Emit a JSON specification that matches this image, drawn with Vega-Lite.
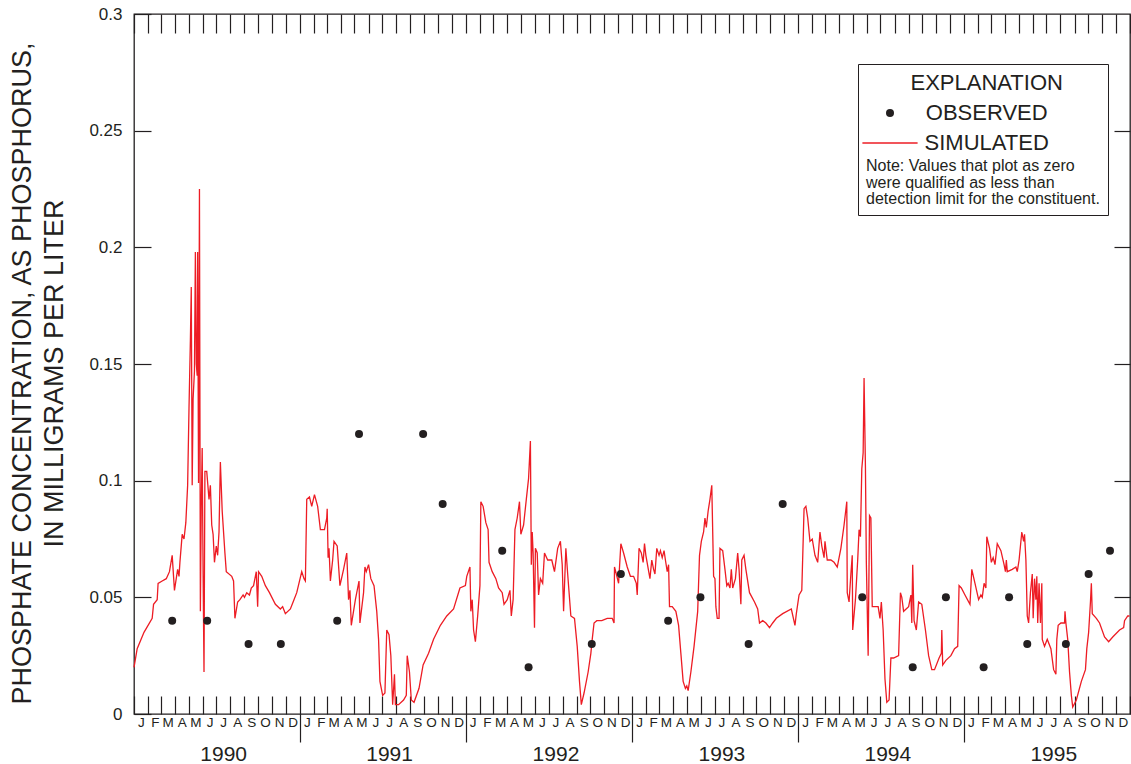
{
  "$schema": "https://vega.github.io/schema/vega-lite/v6.json",
  "width": 996,
  "height": 700,
  "autosize": {"type": "none"},
  "padding": {"left": 134, "top": 14, "right": 1, "bottom": 50},
  "background": "#ffffff",
  "config": {
    "font": "Liberation Sans",
    "view": {"stroke": "#231f20", "strokeWidth": 1.3},
    "axis": {
      "domain": false,
      "grid": false,
      "labelColor": "#231f20",
      "tickColor": "#231f20",
      "tickWidth": 1.2,
      "labelFont": "Liberation Sans",
      "titleFont": "Liberation Sans",
      "titleColor": "#231f20",
      "labelFlush": false,
      "labelOverlap": false
    }
  },
  "datasets": {
    "simulated": [
      {"date": "1990-01-01", "value": 0.020}, {"date": "1990-01-08", "value": 0.028}, {"date": "1990-01-23", "value": 0.035},
      {"date": "1990-02-10", "value": 0.041}, {"date": "1990-02-13", "value": 0.047}, {"date": "1990-02-21", "value": 0.049},
      {"date": "1990-02-23", "value": 0.056}, {"date": "1990-03-04", "value": 0.057}, {"date": "1990-03-13", "value": 0.058},
      {"date": "1990-03-20", "value": 0.061}, {"date": "1990-03-26", "value": 0.068}, {"date": "1990-03-31", "value": 0.053},
      {"date": "1990-04-07", "value": 0.062}, {"date": "1990-04-10", "value": 0.059}, {"date": "1990-04-12", "value": 0.065},
      {"date": "1990-04-17", "value": 0.077}, {"date": "1990-04-21", "value": 0.075}, {"date": "1990-04-25", "value": 0.082},
      {"date": "1990-04-29", "value": 0.098}, {"date": "1990-05-02", "value": 0.131}, {"date": "1990-05-05", "value": 0.160},
      {"date": "1990-05-07", "value": 0.183}, {"date": "1990-05-09", "value": 0.098}, {"date": "1990-05-11", "value": 0.135},
      {"date": "1990-05-14", "value": 0.147}, {"date": "1990-05-16", "value": 0.198}, {"date": "1990-05-18", "value": 0.150},
      {"date": "1990-05-20", "value": 0.145}, {"date": "1990-05-21", "value": 0.198}, {"date": "1990-05-23", "value": 0.099},
      {"date": "1990-05-25", "value": 0.225}, {"date": "1990-05-27", "value": 0.044}, {"date": "1990-05-29", "value": 0.090},
      {"date": "1990-05-31", "value": 0.114}, {"date": "1990-06-02", "value": 0.060}, {"date": "1990-06-04", "value": 0.018},
      {"date": "1990-06-06", "value": 0.104}, {"date": "1990-06-10", "value": 0.104}, {"date": "1990-06-15", "value": 0.092},
      {"date": "1990-06-18", "value": 0.098}, {"date": "1990-06-21", "value": 0.081}, {"date": "1990-06-24", "value": 0.077},
      {"date": "1990-06-27", "value": 0.065}, {"date": "1990-07-01", "value": 0.072}, {"date": "1990-07-04", "value": 0.068},
      {"date": "1990-07-07", "value": 0.078}, {"date": "1990-07-10", "value": 0.108}, {"date": "1990-07-14", "value": 0.087},
      {"date": "1990-07-20", "value": 0.069}, {"date": "1990-07-23", "value": 0.061}, {"date": "1990-08-04", "value": 0.059},
      {"date": "1990-08-08", "value": 0.057}, {"date": "1990-08-11", "value": 0.041}, {"date": "1990-08-17", "value": 0.048},
      {"date": "1990-08-22", "value": 0.049}, {"date": "1990-08-29", "value": 0.051}, {"date": "1990-09-01", "value": 0.050},
      {"date": "1990-09-06", "value": 0.052}, {"date": "1990-09-12", "value": 0.051}, {"date": "1990-09-16", "value": 0.054},
      {"date": "1990-09-21", "value": 0.055}, {"date": "1990-09-27", "value": 0.061}, {"date": "1990-09-30", "value": 0.046},
      {"date": "1990-10-02", "value": 0.061}, {"date": "1990-10-09", "value": 0.059}, {"date": "1990-10-17", "value": 0.055},
      {"date": "1990-10-26", "value": 0.052}, {"date": "1990-11-08", "value": 0.047}, {"date": "1990-11-19", "value": 0.045},
      {"date": "1990-11-24", "value": 0.046}, {"date": "1990-11-30", "value": 0.043}, {"date": "1990-12-11", "value": 0.045},
      {"date": "1990-12-17", "value": 0.048}, {"date": "1990-12-25", "value": 0.052},
      {"date": "1991-01-05", "value": 0.061}, {"date": "1991-01-10", "value": 0.058}, {"date": "1991-01-13", "value": 0.057},
      {"date": "1991-01-16", "value": 0.092}, {"date": "1991-01-22", "value": 0.093}, {"date": "1991-01-27", "value": 0.089},
      {"date": "1991-02-02", "value": 0.094}, {"date": "1991-02-09", "value": 0.089}, {"date": "1991-02-15", "value": 0.079},
      {"date": "1991-02-24", "value": 0.079}, {"date": "1991-03-01", "value": 0.084}, {"date": "1991-03-02", "value": 0.088},
      {"date": "1991-03-04", "value": 0.067}, {"date": "1991-03-06", "value": 0.071}, {"date": "1991-03-09", "value": 0.057},
      {"date": "1991-03-14", "value": 0.066}, {"date": "1991-03-17", "value": 0.074}, {"date": "1991-03-24", "value": 0.072},
      {"date": "1991-03-30", "value": 0.055}, {"date": "1991-04-07", "value": 0.062}, {"date": "1991-04-14", "value": 0.069},
      {"date": "1991-04-18", "value": 0.049}, {"date": "1991-04-21", "value": 0.053}, {"date": "1991-04-24", "value": 0.038},
      {"date": "1991-05-03", "value": 0.049}, {"date": "1991-05-11", "value": 0.057}, {"date": "1991-05-13", "value": 0.039},
      {"date": "1991-05-21", "value": 0.052}, {"date": "1991-05-24", "value": 0.063}, {"date": "1991-05-27", "value": 0.061},
      {"date": "1991-06-01", "value": 0.064}, {"date": "1991-06-06", "value": 0.058}, {"date": "1991-06-13", "value": 0.055},
      {"date": "1991-06-19", "value": 0.044}, {"date": "1991-06-23", "value": 0.032}, {"date": "1991-06-26", "value": 0.014},
      {"date": "1991-07-02", "value": 0.008}, {"date": "1991-07-07", "value": 0.009}, {"date": "1991-07-11", "value": 0.036},
      {"date": "1991-07-16", "value": 0.034}, {"date": "1991-07-20", "value": 0.025}, {"date": "1991-07-24", "value": 0.004},
      {"date": "1991-07-28", "value": 0.017}, {"date": "1991-07-30", "value": 0.004}, {"date": "1991-08-06", "value": 0.004},
      {"date": "1991-08-17", "value": 0.006}, {"date": "1991-08-23", "value": 0.008}, {"date": "1991-08-25", "value": 0.025},
      {"date": "1991-08-30", "value": 0.018}, {"date": "1991-09-03", "value": 0.006}, {"date": "1991-09-09", "value": 0.005},
      {"date": "1991-09-20", "value": 0.011}, {"date": "1991-09-29", "value": 0.021}, {"date": "1991-10-11", "value": 0.026},
      {"date": "1991-10-22", "value": 0.032}, {"date": "1991-11-06", "value": 0.038}, {"date": "1991-11-20", "value": 0.042},
      {"date": "1991-12-05", "value": 0.045}, {"date": "1991-12-19", "value": 0.054}, {"date": "1991-12-31", "value": 0.055},
      {"date": "1992-01-03", "value": 0.059}, {"date": "1992-01-10", "value": 0.063}, {"date": "1992-01-12", "value": 0.044},
      {"date": "1992-01-15", "value": 0.049}, {"date": "1992-01-18", "value": 0.036}, {"date": "1992-01-22", "value": 0.031},
      {"date": "1992-01-27", "value": 0.042}, {"date": "1992-02-01", "value": 0.055}, {"date": "1992-02-03", "value": 0.091},
      {"date": "1992-02-08", "value": 0.089}, {"date": "1992-02-14", "value": 0.082}, {"date": "1992-02-19", "value": 0.079},
      {"date": "1992-02-21", "value": 0.065}, {"date": "1992-02-28", "value": 0.061}, {"date": "1992-03-07", "value": 0.058},
      {"date": "1992-03-13", "value": 0.054}, {"date": "1992-03-21", "value": 0.052}, {"date": "1992-03-25", "value": 0.047},
      {"date": "1992-04-01", "value": 0.049}, {"date": "1992-04-07", "value": 0.053}, {"date": "1992-04-10", "value": 0.042},
      {"date": "1992-04-14", "value": 0.049}, {"date": "1992-04-18", "value": 0.079}, {"date": "1992-04-23", "value": 0.084},
      {"date": "1992-04-28", "value": 0.091}, {"date": "1992-05-01", "value": 0.077}, {"date": "1992-05-07", "value": 0.081},
      {"date": "1992-05-13", "value": 0.092}, {"date": "1992-05-18", "value": 0.101}, {"date": "1992-05-22", "value": 0.117},
      {"date": "1992-05-24", "value": 0.064}, {"date": "1992-05-26", "value": 0.078}, {"date": "1992-05-28", "value": 0.069},
      {"date": "1992-05-31", "value": 0.037}, {"date": "1992-06-02", "value": 0.071}, {"date": "1992-06-06", "value": 0.069},
      {"date": "1992-06-09", "value": 0.051}, {"date": "1992-06-13", "value": 0.058}, {"date": "1992-06-18", "value": 0.056},
      {"date": "1992-06-22", "value": 0.069}, {"date": "1992-06-29", "value": 0.066}, {"date": "1992-07-08", "value": 0.066},
      {"date": "1992-07-14", "value": 0.061}, {"date": "1992-07-21", "value": 0.071}, {"date": "1992-07-27", "value": 0.074},
      {"date": "1992-07-31", "value": 0.064}, {"date": "1992-08-03", "value": 0.044}, {"date": "1992-08-08", "value": 0.071},
      {"date": "1992-08-12", "value": 0.060}, {"date": "1992-08-19", "value": 0.042}, {"date": "1992-08-27", "value": 0.041},
      {"date": "1992-09-02", "value": 0.029}, {"date": "1992-09-07", "value": 0.014}, {"date": "1992-09-11", "value": 0.004},
      {"date": "1992-09-17", "value": 0.009}, {"date": "1992-09-26", "value": 0.018}, {"date": "1992-10-02", "value": 0.026},
      {"date": "1992-10-05", "value": 0.032}, {"date": "1992-10-09", "value": 0.039}, {"date": "1992-10-15", "value": 0.040},
      {"date": "1992-10-26", "value": 0.040}, {"date": "1992-11-07", "value": 0.041}, {"date": "1992-11-18", "value": 0.041},
      {"date": "1992-11-22", "value": 0.039}, {"date": "1992-11-23", "value": 0.063}, {"date": "1992-11-27", "value": 0.060},
      {"date": "1992-12-02", "value": 0.056}, {"date": "1992-12-07", "value": 0.073}, {"date": "1992-12-13", "value": 0.069},
      {"date": "1992-12-21", "value": 0.063}, {"date": "1992-12-28", "value": 0.059},
      {"date": "1993-01-04", "value": 0.059}, {"date": "1993-01-10", "value": 0.056}, {"date": "1993-01-12", "value": 0.051},
      {"date": "1993-01-16", "value": 0.071}, {"date": "1993-01-21", "value": 0.069}, {"date": "1993-01-25", "value": 0.065},
      {"date": "1993-01-28", "value": 0.073}, {"date": "1993-01-31", "value": 0.068}, {"date": "1993-02-09", "value": 0.058},
      {"date": "1993-02-13", "value": 0.066}, {"date": "1993-02-17", "value": 0.062}, {"date": "1993-02-20", "value": 0.060},
      {"date": "1993-02-24", "value": 0.071}, {"date": "1993-03-01", "value": 0.068}, {"date": "1993-03-04", "value": 0.070},
      {"date": "1993-03-08", "value": 0.067}, {"date": "1993-03-12", "value": 0.070}, {"date": "1993-03-15", "value": 0.066},
      {"date": "1993-03-19", "value": 0.061}, {"date": "1993-03-22", "value": 0.064}, {"date": "1993-03-24", "value": 0.046},
      {"date": "1993-03-30", "value": 0.046}, {"date": "1993-04-07", "value": 0.044}, {"date": "1993-04-13", "value": 0.038},
      {"date": "1993-04-18", "value": 0.026}, {"date": "1993-04-23", "value": 0.014}, {"date": "1993-04-28", "value": 0.011},
      {"date": "1993-05-01", "value": 0.012}, {"date": "1993-05-04", "value": 0.010}, {"date": "1993-05-10", "value": 0.018},
      {"date": "1993-05-17", "value": 0.029}, {"date": "1993-05-25", "value": 0.044}, {"date": "1993-05-29", "value": 0.068},
      {"date": "1993-06-02", "value": 0.074}, {"date": "1993-06-07", "value": 0.078}, {"date": "1993-06-10", "value": 0.084},
      {"date": "1993-06-13", "value": 0.080}, {"date": "1993-06-17", "value": 0.087}, {"date": "1993-06-21", "value": 0.092},
      {"date": "1993-06-25", "value": 0.098}, {"date": "1993-06-29", "value": 0.059}, {"date": "1993-07-02", "value": 0.058},
      {"date": "1993-07-04", "value": 0.046}, {"date": "1993-07-07", "value": 0.041}, {"date": "1993-07-11", "value": 0.041},
      {"date": "1993-07-13", "value": 0.071}, {"date": "1993-07-19", "value": 0.070}, {"date": "1993-07-24", "value": 0.062},
      {"date": "1993-07-28", "value": 0.055}, {"date": "1993-07-31", "value": 0.056}, {"date": "1993-08-04", "value": 0.054},
      {"date": "1993-08-07", "value": 0.062}, {"date": "1993-08-10", "value": 0.054}, {"date": "1993-08-16", "value": 0.058},
      {"date": "1993-08-21", "value": 0.069}, {"date": "1993-08-24", "value": 0.062}, {"date": "1993-08-28", "value": 0.047},
      {"date": "1993-08-30", "value": 0.066}, {"date": "1993-09-04", "value": 0.068}, {"date": "1993-09-08", "value": 0.062},
      {"date": "1993-09-16", "value": 0.052}, {"date": "1993-09-27", "value": 0.048}, {"date": "1993-10-04", "value": 0.045},
      {"date": "1993-10-08", "value": 0.039}, {"date": "1993-10-15", "value": 0.040}, {"date": "1993-10-22", "value": 0.039},
      {"date": "1993-10-30", "value": 0.037}, {"date": "1993-11-06", "value": 0.039}, {"date": "1993-11-14", "value": 0.041},
      {"date": "1993-11-28", "value": 0.043}, {"date": "1993-12-17", "value": 0.045}, {"date": "1993-12-25", "value": 0.038},
      {"date": "1993-12-28", "value": 0.043},
      {"date": "1994-01-03", "value": 0.051}, {"date": "1994-01-09", "value": 0.053}, {"date": "1994-01-14", "value": 0.088},
      {"date": "1994-01-18", "value": 0.089}, {"date": "1994-01-22", "value": 0.084}, {"date": "1994-01-27", "value": 0.074},
      {"date": "1994-02-01", "value": 0.075}, {"date": "1994-02-07", "value": 0.068}, {"date": "1994-02-13", "value": 0.065},
      {"date": "1994-02-18", "value": 0.078}, {"date": "1994-02-22", "value": 0.072}, {"date": "1994-02-27", "value": 0.067},
      {"date": "1994-03-01", "value": 0.074}, {"date": "1994-03-06", "value": 0.066}, {"date": "1994-03-14", "value": 0.066},
      {"date": "1994-03-21", "value": 0.065}, {"date": "1994-03-28", "value": 0.063}, {"date": "1994-04-05", "value": 0.071},
      {"date": "1994-04-12", "value": 0.081}, {"date": "1994-04-18", "value": 0.091}, {"date": "1994-04-19", "value": 0.052},
      {"date": "1994-04-23", "value": 0.048}, {"date": "1994-04-27", "value": 0.060}, {"date": "1994-04-30", "value": 0.068},
      {"date": "1994-05-01", "value": 0.036}, {"date": "1994-05-07", "value": 0.049}, {"date": "1994-05-12", "value": 0.066},
      {"date": "1994-05-15", "value": 0.079}, {"date": "1994-05-18", "value": 0.076}, {"date": "1994-05-21", "value": 0.105},
      {"date": "1994-05-24", "value": 0.112}, {"date": "1994-05-26", "value": 0.144}, {"date": "1994-05-29", "value": 0.106},
      {"date": "1994-05-31", "value": 0.065}, {"date": "1994-06-04", "value": 0.025}, {"date": "1994-06-07", "value": 0.085},
      {"date": "1994-06-10", "value": 0.084}, {"date": "1994-06-13", "value": 0.046}, {"date": "1994-06-19", "value": 0.046},
      {"date": "1994-06-26", "value": 0.046}, {"date": "1994-06-30", "value": 0.041}, {"date": "1994-07-03", "value": 0.048},
      {"date": "1994-07-07", "value": 0.036}, {"date": "1994-07-11", "value": 0.015}, {"date": "1994-07-15", "value": 0.005},
      {"date": "1994-07-20", "value": 0.006}, {"date": "1994-07-24", "value": 0.024}, {"date": "1994-07-30", "value": 0.024},
      {"date": "1994-08-10", "value": 0.025}, {"date": "1994-08-14", "value": 0.052}, {"date": "1994-08-17", "value": 0.050},
      {"date": "1994-08-21", "value": 0.044}, {"date": "1994-09-01", "value": 0.046}, {"date": "1994-09-06", "value": 0.051},
      {"date": "1994-09-08", "value": 0.039}, {"date": "1994-09-10", "value": 0.064}, {"date": "1994-09-13", "value": 0.040},
      {"date": "1994-09-18", "value": 0.036}, {"date": "1994-09-23", "value": 0.048}, {"date": "1994-09-30", "value": 0.047},
      {"date": "1994-10-08", "value": 0.036}, {"date": "1994-10-15", "value": 0.025}, {"date": "1994-10-22", "value": 0.019},
      {"date": "1994-10-28", "value": 0.019}, {"date": "1994-11-07", "value": 0.024}, {"date": "1994-11-12", "value": 0.026},
      {"date": "1994-11-13", "value": 0.036}, {"date": "1994-11-15", "value": 0.021}, {"date": "1994-11-22", "value": 0.023},
      {"date": "1994-12-03", "value": 0.025}, {"date": "1994-12-11", "value": 0.028}, {"date": "1994-12-18", "value": 0.029},
      {"date": "1994-12-21", "value": 0.055}, {"date": "1994-12-26", "value": 0.054},
      {"date": "1995-01-03", "value": 0.051}, {"date": "1995-01-14", "value": 0.047}, {"date": "1995-01-18", "value": 0.062},
      {"date": "1995-01-25", "value": 0.056}, {"date": "1995-02-02", "value": 0.049}, {"date": "1995-02-07", "value": 0.051},
      {"date": "1995-02-10", "value": 0.050}, {"date": "1995-02-14", "value": 0.056}, {"date": "1995-02-18", "value": 0.054},
      {"date": "1995-02-20", "value": 0.076}, {"date": "1995-02-26", "value": 0.071}, {"date": "1995-03-02", "value": 0.065},
      {"date": "1995-03-06", "value": 0.067}, {"date": "1995-03-10", "value": 0.064}, {"date": "1995-03-15", "value": 0.073},
      {"date": "1995-03-23", "value": 0.070}, {"date": "1995-03-30", "value": 0.064}, {"date": "1995-04-02", "value": 0.061},
      {"date": "1995-04-04", "value": 0.066}, {"date": "1995-04-06", "value": 0.061}, {"date": "1995-04-17", "value": 0.062},
      {"date": "1995-04-25", "value": 0.063}, {"date": "1995-04-28", "value": 0.061}, {"date": "1995-05-02", "value": 0.066},
      {"date": "1995-05-08", "value": 0.078}, {"date": "1995-05-12", "value": 0.074}, {"date": "1995-05-14", "value": 0.077},
      {"date": "1995-05-17", "value": 0.066}, {"date": "1995-05-20", "value": 0.042}, {"date": "1995-05-23", "value": 0.039},
      {"date": "1995-05-27", "value": 0.052}, {"date": "1995-05-31", "value": 0.060}, {"date": "1995-06-02", "value": 0.041},
      {"date": "1995-06-05", "value": 0.058}, {"date": "1995-06-08", "value": 0.049}, {"date": "1995-06-10", "value": 0.059},
      {"date": "1995-06-12", "value": 0.039}, {"date": "1995-06-15", "value": 0.056}, {"date": "1995-06-18", "value": 0.039},
      {"date": "1995-06-21", "value": 0.056}, {"date": "1995-06-22", "value": 0.032}, {"date": "1995-06-27", "value": 0.029},
      {"date": "1995-07-03", "value": 0.032}, {"date": "1995-07-11", "value": 0.028}, {"date": "1995-07-17", "value": 0.019},
      {"date": "1995-07-22", "value": 0.017}, {"date": "1995-07-24", "value": 0.032}, {"date": "1995-07-27", "value": 0.038},
      {"date": "1995-08-02", "value": 0.039}, {"date": "1995-08-10", "value": 0.039}, {"date": "1995-08-11", "value": 0.044},
      {"date": "1995-08-13", "value": 0.039}, {"date": "1995-08-17", "value": 0.032}, {"date": "1995-08-21", "value": 0.018},
      {"date": "1995-08-25", "value": 0.008}, {"date": "1995-08-28", "value": 0.003}, {"date": "1995-09-05", "value": 0.006},
      {"date": "1995-09-16", "value": 0.014}, {"date": "1995-09-25", "value": 0.019}, {"date": "1995-09-28", "value": 0.028},
      {"date": "1995-10-02", "value": 0.035}, {"date": "1995-10-06", "value": 0.048}, {"date": "1995-10-08", "value": 0.056},
      {"date": "1995-10-10", "value": 0.043}, {"date": "1995-10-19", "value": 0.041}, {"date": "1995-10-26", "value": 0.039},
      {"date": "1995-11-06", "value": 0.033}, {"date": "1995-11-15", "value": 0.031}, {"date": "1995-11-24", "value": 0.033},
      {"date": "1995-12-09", "value": 0.036}, {"date": "1995-12-18", "value": 0.037}, {"date": "1995-12-20", "value": 0.040},
      {"date": "1995-12-27", "value": 0.042}, {"date": "1995-12-31", "value": 0.042}
    ],
    "observed": [
      {"date": "1990-03-26", "value": 0.04, "series": "OBSERVED"},
      {"date": "1990-06-11", "value": 0.04, "series": "OBSERVED"},
      {"date": "1990-09-10", "value": 0.03, "series": "OBSERVED"},
      {"date": "1990-11-20", "value": 0.03, "series": "OBSERVED"},
      {"date": "1991-03-24", "value": 0.04, "series": "OBSERVED"},
      {"date": "1991-05-11", "value": 0.12, "series": "OBSERVED"},
      {"date": "1991-09-29", "value": 0.12, "series": "OBSERVED"},
      {"date": "1991-11-11", "value": 0.09, "series": "OBSERVED"},
      {"date": "1992-03-21", "value": 0.07, "series": "OBSERVED"},
      {"date": "1992-05-18", "value": 0.02, "series": "OBSERVED"},
      {"date": "1992-10-04", "value": 0.03, "series": "OBSERVED"},
      {"date": "1992-12-07", "value": 0.06, "series": "OBSERVED"},
      {"date": "1993-03-21", "value": 0.04, "series": "OBSERVED"},
      {"date": "1993-05-31", "value": 0.05, "series": "OBSERVED"},
      {"date": "1993-09-14", "value": 0.03, "series": "OBSERVED"},
      {"date": "1993-11-28", "value": 0.09, "series": "OBSERVED"},
      {"date": "1994-05-22", "value": 0.05, "series": "OBSERVED"},
      {"date": "1994-09-10", "value": 0.02, "series": "OBSERVED"},
      {"date": "1994-11-22", "value": 0.05, "series": "OBSERVED"},
      {"date": "1995-02-13", "value": 0.02, "series": "OBSERVED"},
      {"date": "1995-04-10", "value": 0.05, "series": "OBSERVED"},
      {"date": "1995-05-20", "value": 0.03, "series": "OBSERVED"},
      {"date": "1995-08-13", "value": 0.03, "series": "OBSERVED"},
      {"date": "1995-10-02", "value": 0.06, "series": "OBSERVED"},
      {"date": "1995-11-18", "value": 0.07, "series": "OBSERVED"}
    ]
  },
  "layer": [
    {
      "data": {"name": "simulated"},
      "mark": {"type": "line", "color": "#ed1c24", "strokeWidth": 1.3},
      "encoding": {
        "x": {
          "field": "date",
          "type": "temporal",
          "scale": {
            "type": "utc",
            "nice": false,
            "domain": [
              {"year": 1990, "month": 1, "date": 1, "utc": true},
              {"year": 1996, "month": 1, "date": 1, "utc": true}
            ]
          },
          "axis": {
            "orient": "bottom",
            "offset": -18,
            "title": null,
            "tickCount": {"interval": "month", "step": 1},
            "tickSize": {
              "condition": {"test": "utcmonth(datum.value) == 0 && utcyear(datum.value) > 1990 && utcyear(datum.value) < 1996", "value": 46},
              "value": 18
            },
            "labelPadding": {
              "condition": {"test": "utcmonth(datum.value) == 0 && utcyear(datum.value) > 1990 && utcyear(datum.value) < 1996", "value": -27},
              "value": 1
            },
            "labelOffset": 6.9,
            "labelAlign": "center",
            "labelBaseline": "top",
            "labelFontSize": 13.5,
            "labelExpr": "utcyear(datum.value) > 1995 ? '' : substring(utcFormat(datum.value, '%b'), 0, 1)"
          }
        },
        "y": {
          "field": "value",
          "type": "quantitative",
          "scale": {"domain": [0, 0.3], "nice": false},
          "axis": {
            "orient": "left",
            "values": [0, 0.05, 0.1, 0.15, 0.2, 0.25, 0.3],
            "format": ".2~f",
            "tickSize": -17,
            "labelPadding": 29,
            "labelFontSize": 17,
            "title": ["PHOSPHATE CONCENTRATION, AS PHOSPHORUS,", "IN MILLIGRAMS PER LITER"],
            "titleFontSize": 27,
            "titleFontWeight": "normal",
            "titleLineHeight": 32,
            "titlePadding": 20,
            "titleY": 359
          }
        }
      }
    },
    {
      "data": {"name": "observed"},
      "mark": {"type": "point", "filled": true, "size": 64, "opacity": 1},
      "encoding": {
        "x": {
          "field": "date",
          "type": "temporal",
          "scale": {
            "type": "utc",
            "nice": false,
            "domain": [
              {"year": 1990, "month": 1, "date": 1, "utc": true},
              {"year": 1996, "month": 1, "date": 1, "utc": true}
            ]
          },
          "axis": {
            "orient": "top",
            "title": null,
            "tickCount": {"interval": "month", "step": 1},
            "tickSize": -19,
            "labelPadding": -727.5,
            "labelOffset": 6.9,
            "labelAlign": "center",
            "labelBaseline": "alphabetic",
            "labelFontSize": 21,
            "labelExpr": "utcmonth(datum.value) == 6 ? utcyear(datum.value) : ''"
          }
        },
        "y": {
          "field": "value",
          "type": "quantitative",
          "scale": {"domain": [0, 0.3], "nice": false},
          "axis": {
            "orient": "right",
            "values": [0.05, 0.1, 0.15, 0.2, 0.25],
            "tickSize": -16,
            "labels": false,
            "title": null
          }
        },
        "shape": {
          "field": "series",
          "type": "nominal",
          "scale": {
            "domain": ["EXPLANATION", "OBSERVED", "SIMULATED"],
            "range": ["circle", "circle", "M-6.9,-0.16H6.9V0.16H-6.9Z"]
          }
        },
        "color": {
          "field": "series",
          "type": "nominal",
          "scale": {
            "domain": ["EXPLANATION", "OBSERVED", "SIMULATED"],
            "range": ["#ffffff", "#231f20", "#ed1c24"]
          },
          "legend": {
            "orient": "none",
            "legendX": 724,
            "legendY": 50,
            "direction": "vertical",
            "title": ["Note: Values that plot as zero", "were qualified as less than", "detection limit for the constituent."],
            "titleOrient": "bottom",
            "titleAnchor": "start",
            "titleAlign": "left",
            "titleFontSize": 16,
            "titleFontWeight": "normal",
            "titleLineHeight": 16.5,
            "titleLimit": 500,
            "titlePadding": 4,
            "titleColor": "#231f20",
            "padding": 8,
            "strokeColor": "#231f20",
            "fillColor": "#ffffff",
            "cornerRadius": 0,
            "rowPadding": 8,
            "symbolSize": 64,
            "symbolOffset": 13,
            "symbolStrokeWidth": 0,
            "labelFontSize": 22,
            "labelLimit": 500,
            "labelColor": "#231f20",
            "labelAlign": "center",
            "labelOffset": 85.7
          }
        }
      }
    }
  ],
  "resolve": {"axis": {"x": "independent", "y": "independent"}}
}
